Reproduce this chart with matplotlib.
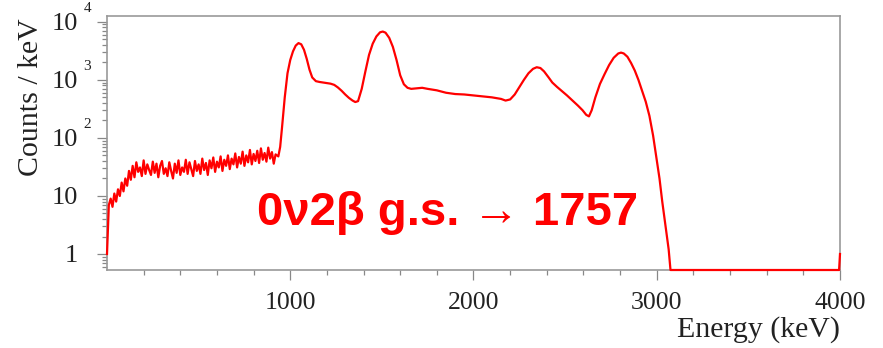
import numpy as np
import matplotlib
matplotlib.use("Agg")
import matplotlib.pyplot as plt
from matplotlib.ticker import FixedLocator, LogLocator, NullFormatter

# low-energy part, 10 keV bins (noisy continuum)
noise_kev = np.arange(0, 930, 10)
noise_counts = [1, 7, 9, 6.5, 11, 8, 13, 10, 17, 12,
                20, 15, 27, 19, 33, 21, 38, 26, 31, 22,
                41, 24, 35, 28, 23, 39, 25, 36, 21, 33,
                40, 24, 30, 22, 38, 27, 20, 36, 25, 41,
                23, 31, 26, 42, 24, 38, 29, 22, 40, 27,
                35, 24, 44, 28, 37, 23, 41, 30, 46, 26,
                39, 31, 48, 27, 42, 33, 50, 29, 44, 35,
                54, 31, 47, 36, 58, 33, 50, 38, 62, 35,
                53, 40, 60, 37, 66, 42, 55, 39, 68, 44,
                57, 36, 52]

# peak region
peak_kev = [935, 945, 955, 970, 985, 1000, 1015, 1030, 1045, 1060,
            1075, 1090, 1105, 1120, 1140, 1160, 1180, 1200, 1220, 1240,
            1260, 1280, 1300, 1320, 1340, 1355, 1370, 1390, 1410, 1430,
            1450, 1470, 1490, 1505, 1520, 1540, 1560, 1580, 1600, 1620,
            1640, 1660, 1680, 1700, 1720, 1750, 1800, 1850, 1900, 1950,
            2000, 2050, 2100, 2150, 2175, 2200, 2225, 2250, 2275, 2300,
            2325, 2345, 2365, 2385, 2410, 2430, 2455, 2480, 2510, 2540,
            2570, 2595, 2615, 2630, 2645, 2665, 2690, 2715, 2740, 2765,
            2790, 2805, 2820, 2840, 2860, 2880, 2900, 2920, 2940, 2960,
            2980, 3000, 3015, 3030, 3045, 3055, 3065, 3075]
peak_counts = [48, 70, 150, 500, 1300, 2200, 3100, 3900, 4300, 4100,
               3300, 2300, 1500, 1100, 950, 920, 900, 880, 860, 820,
               740, 650, 560, 490, 440, 415, 430, 700, 1400, 2700,
               4200, 5600, 6600, 6800, 6500, 5300, 3700, 2200, 1200, 840,
               730, 700, 710, 720, 730, 700, 660, 600, 570, 560,
               540, 520, 500, 470, 440, 460, 560, 750, 1000, 1300,
               1550, 1650, 1600, 1400, 1100, 900, 760, 650, 540, 440,
               360, 300, 250, 235, 300, 500, 850, 1250, 1800, 2400,
               2850, 2950, 2850, 2500, 1950, 1450, 1000, 650, 420, 240,
               110, 42, 20, 8, 3.5, 2, 1.2, 0]

# empty tail and last bin
tail_kev = [3995, 4000]
tail_counts = [0, 1]

energy = np.concatenate([noise_kev, peak_kev, tail_kev])
counts = np.concatenate([noise_counts, peak_counts, tail_counts]).astype(float)

plt.rcParams['mathtext.fontset'] = 'custom'
plt.rcParams['mathtext.rm'] = 'Liberation Serif'

fig = plt.figure(figsize=(8.83, 3.48), dpi=100)
ax = fig.add_axes([107/883, 1-270/348, (840-107)/883, (270-16)/348])

ymin, ymax = 0.53, 12600
ax.set_yscale('log')
ax.set_xlim(0, 4000)
ax.set_ylim(ymin, ymax)

y = np.where(counts > 0, counts, ymin)
ax.plot(energy, y, color='#ff0000', lw=1.6, clip_on=False, zorder=5)

serif = 'Liberation Serif'
ax.xaxis.set_major_locator(FixedLocator([1000, 2000, 3000, 4000]))
ax.xaxis.set_minor_locator(FixedLocator(np.arange(200, 4000, 200)))
ax.set_xticklabels(['1000', '2000', '3000', '4000'], fontfamily=serif,
                   fontsize=18.5, color='#222222')
ax.yaxis.set_major_locator(FixedLocator([1, 10, 100, 1000, 10000]))
ax.yaxis.set_minor_locator(LogLocator(base=10, subs=np.arange(2, 10)))
ax.yaxis.set_minor_formatter(NullFormatter())
ax.set_yticklabels(['1', '10', '10', '10', '10'], fontfamily=serif,
                   fontsize=19, color='#222222')
for k in [2, 3, 4]:
    ax.annotate(str(k), xy=(0, 10**k), xycoords=('axes fraction', 'data'),
                xytext=(-17, 5), textcoords='offset points',
                fontfamily=serif, fontsize=11, color='#222222',
                ha='left', va='bottom')

ax.tick_params(axis='both', which='major', direction='out', length=7,
               width=0.9, color='#888888')
ax.tick_params(axis='both', which='minor', direction='out', length=3.5,
               width=0.9, color='#888888')
ax.tick_params(axis='y', which='major', pad=14)
ax.tick_params(axis='x', which='major', pad=9)
for s in ax.spines.values():
    s.set_color('#999999')
    s.set_linewidth(1.2)

fig.text(44/883, 1-18/348, 'Counts / keV', rotation=90, ha='right', va='top',
         fontfamily=serif, fontsize=21.5, color='#222222')
fig.text(840/883, 1-337/348, 'Energy (keV)', ha='right', va='baseline',
         fontfamily=serif, fontsize=21.5, color='#222222')

fig.text(257/883, 1-225/348, '0\u03bd2\u03b2 g.s. \u2192 1757', ha='left',
         va='baseline', fontfamily='Liberation Sans', fontweight='bold',
         fontsize=34, color='#ff0000')

fig.savefig('out.png', dpi=100)
